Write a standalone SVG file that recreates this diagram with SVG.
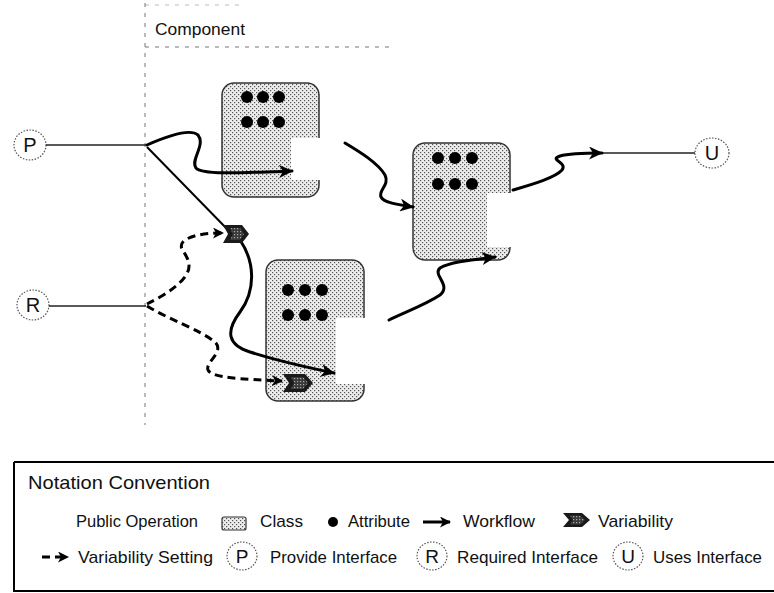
<svg xmlns="http://www.w3.org/2000/svg" width="774" height="593" viewBox="0 0 774 593">
<defs>
<pattern id="stip" width="4" height="4" patternUnits="userSpaceOnUse">
<rect width="4" height="4" fill="#ececec"/>
<rect x="0" y="0" width="1.2" height="1.2" fill="#555"/>
<rect x="2" y="2" width="1.2" height="1.2" fill="#555"/>
</pattern>
<pattern id="stipD" width="3" height="3" patternUnits="userSpaceOnUse">
<rect width="3" height="3" fill="#3a3a3a"/>
<rect x="0" y="0" width="1.2" height="1.2" fill="#aaa"/>
</pattern>
<marker id="wf" markerUnits="userSpaceOnUse" markerWidth="15" markerHeight="13" refX="13" refY="6.5" orient="auto">
<path d="M0,0 L14,6.5 L0,13 L4,6.5 Z" fill="#000"/>
</marker>
<marker id="vs" markerUnits="userSpaceOnUse" markerWidth="12" markerHeight="11" refX="10" refY="5.5" orient="auto">
<path d="M0,0 L11,5.5 L0,11 L3,5.5 Z" fill="#000"/>
</marker>
<style>
.t{font-family:"Liberation Sans",Arial,sans-serif;fill:#111}
.cls{fill:url(#stip);stroke:#333;stroke-width:1.5}
.dot{fill:#000}
.pub{fill:#fff}
.iface{fill:#fff;stroke:#555;stroke-width:1.2;stroke-dasharray:1.5 1.5}
.wf{fill:none;stroke:#000;stroke-width:3;stroke-linecap:round;marker-end:url(#wf)}
.vs{fill:none;stroke:#000;stroke-width:3;stroke-dasharray:8 5;marker-end:url(#vs)}
.thin{fill:none;stroke:#222;stroke-width:1.3}
.var{fill:#1a1a1a}
.varin{fill:url(#stipD)}
.bound{fill:none;stroke:#777;stroke-width:1;stroke-dasharray:4 6}
</style>
</defs>
<rect width="774" height="593" fill="#fff"/>

<g id="component">
<line class="bound" x1="145" y1="3" x2="145" y2="425"/>
<line class="bound" x1="145" y1="5" x2="245" y2="5" stroke-opacity="0.5"/>
<line class="bound" x1="145" y1="47" x2="390" y2="47"/>
<text class="t" x="155" y="35" font-size="16.5" textLength="90" lengthAdjust="spacingAndGlyphs">Component</text>
</g>

<g id="class1">
<rect class="cls" x="222" y="83" width="97" height="114" rx="12"/>
<circle class="dot" cx="247" cy="97" r="6"/><circle class="dot" cx="263" cy="97" r="6"/><circle class="dot" cx="279" cy="97" r="6"/>
<circle class="dot" cx="247" cy="122" r="6"/><circle class="dot" cx="263" cy="122" r="6"/><circle class="dot" cx="279" cy="122" r="6"/>
<rect class="pub" x="291" y="138" width="31" height="42"/>
</g>

<g id="class2">
<rect class="cls" x="413" y="143" width="97" height="117" rx="12"/>
<circle class="dot" cx="438" cy="158" r="6"/><circle class="dot" cx="455" cy="158" r="6"/><circle class="dot" cx="472" cy="158" r="6"/>
<circle class="dot" cx="438" cy="184" r="6"/><circle class="dot" cx="455" cy="184" r="6"/><circle class="dot" cx="472" cy="184" r="6"/>
<rect class="pub" x="487" y="193" width="26" height="54"/>
</g>

<g id="class3">
<rect class="cls" x="266" y="260" width="98" height="141" rx="12"/>
<circle class="dot" cx="288" cy="290" r="6"/><circle class="dot" cx="305" cy="290" r="6"/><circle class="dot" cx="322" cy="290" r="6"/>
<circle class="dot" cx="288" cy="315" r="6"/><circle class="dot" cx="305" cy="315" r="6"/><circle class="dot" cx="322" cy="315" r="6"/>
<rect class="pub" x="336" y="318" width="31" height="66"/>
</g>

<g id="ifaceP">
<ellipse class="iface" cx="30" cy="145" rx="16" ry="15"/>
<text class="t" x="30" y="152" font-size="20" text-anchor="middle">P</text>
</g>
<g id="ifaceR">
<ellipse class="iface" cx="33" cy="305" rx="16" ry="15"/>
<text class="t" x="33" y="312" font-size="20" text-anchor="middle">R</text>
</g>
<g id="ifaceU">
<ellipse class="iface" cx="712" cy="153" rx="17" ry="15"/>
<text class="t" x="712" y="160" font-size="20" text-anchor="middle">U</text>
</g>

<g id="connectors">
<line class="thin" x1="46" y1="145" x2="146" y2="145"/>
<line class="thin" x1="49" y1="306" x2="146" y2="306"/>
<line class="thin" x1="600" y1="153" x2="695" y2="153"/>
<path class="wf" d="M147,145 C165,137 190,128 198,135 C206,145 190,160 196,168 C202,175 240,173 292,171"/>
<path fill="none" stroke="#000" stroke-width="2" d="M147,147 L230,232"/>
<path class="wf" d="M240,240 C255,262 256,290 240,312 C225,332 228,345 250,352 C275,360 305,367 334,373"/>
<path class="wf" d="M345,143 C360,152 378,163 385,175 C390,185 378,190 381,197 C384,203 400,205 413,207"/>
<path class="wf" d="M389,320 C405,312 425,305 440,295 C452,285 432,275 440,268 C450,262 470,260 495,257"/>
<path class="wf" d="M513,190 C530,185 555,178 562,170 C568,162 548,160 560,156 C570,153 585,153 602,153"/>
<path class="vs" d="M147,304 C165,295 190,280 189,265 C188,252 175,248 185,240 C195,234 210,233 223,233"/>
<path class="vs" d="M147,306 C170,320 200,330 215,342 C225,352 205,362 208,370 C212,378 240,379 282,381"/>
</g>

<g id="var1">
<polygon class="var" points="223,225 242,225 249,234 242,243 223,243 228,234"/>
<polygon class="varin" points="230,228 240,228 244,234 240,240 230,240 233,234"/>
</g>
<g id="var2">
<polygon class="var" points="283,374 305,374 313,383 305,392 283,392 289,383"/>
<polygon class="varin" points="291,377 303,377 308,383 303,389 291,389 294,383"/>
</g>

<g id="legend">
<path d="M14,462 L780,462 M14,462 L14,591 L780,591" fill="none" stroke="#000" stroke-width="2"/>
<text class="t" x="28" y="489" font-size="19" textLength="182" lengthAdjust="spacingAndGlyphs">Notation Convention</text>
<text class="t" x="76" y="527" font-size="17" textLength="122" lengthAdjust="spacingAndGlyphs">Public Operation</text>
<rect x="222" y="517" width="24" height="13" fill="url(#stip)" stroke="#333" stroke-width="1.2" rx="2"/>
<text class="t" x="260" y="527" font-size="17" textLength="43" lengthAdjust="spacingAndGlyphs">Class</text>
<circle cx="333" cy="522" r="5" fill="#000"/>
<text class="t" x="348" y="527" font-size="17" textLength="62" lengthAdjust="spacingAndGlyphs">Attribute</text>
<line x1="423" y1="522" x2="450" y2="522" stroke="#000" stroke-width="3" marker-end="url(#vs)"/>
<text class="t" x="463" y="527" font-size="17" textLength="72" lengthAdjust="spacingAndGlyphs">Workflow</text>
<polygon class="var" points="563,513 582,513 590,520 582,527 563,527 569,520"/>
<polygon class="varin" points="570,515.5 580,515.5 585,520 580,524.5 570,524.5 573,520"/>
<text class="t" x="598" y="527" font-size="17" textLength="75" lengthAdjust="spacingAndGlyphs">Variability</text>
<line x1="42" y1="557" x2="68" y2="557" stroke="#000" stroke-width="3" stroke-dasharray="8 5" marker-end="url(#vs)"/>
<text class="t" x="78" y="563" font-size="17" textLength="135" lengthAdjust="spacingAndGlyphs">Variability Setting</text>
<ellipse class="iface" cx="242" cy="556" rx="15" ry="14"/>
<text class="t" x="242" y="563" font-size="19" text-anchor="middle">P</text>
<text class="t" x="270" y="563" font-size="17" textLength="127" lengthAdjust="spacingAndGlyphs">Provide Interface</text>
<ellipse class="iface" cx="432" cy="556" rx="15" ry="14"/>
<text class="t" x="432" y="563" font-size="19" text-anchor="middle">R</text>
<text class="t" x="457" y="563" font-size="17" textLength="141" lengthAdjust="spacingAndGlyphs">Required Interface</text>
<ellipse class="iface" cx="628" cy="556" rx="15" ry="14"/>
<text class="t" x="628" y="563" font-size="19" text-anchor="middle">U</text>
<text class="t" x="653" y="563" font-size="17" textLength="109" lengthAdjust="spacingAndGlyphs">Uses Interface</text>
</g>
</svg>
